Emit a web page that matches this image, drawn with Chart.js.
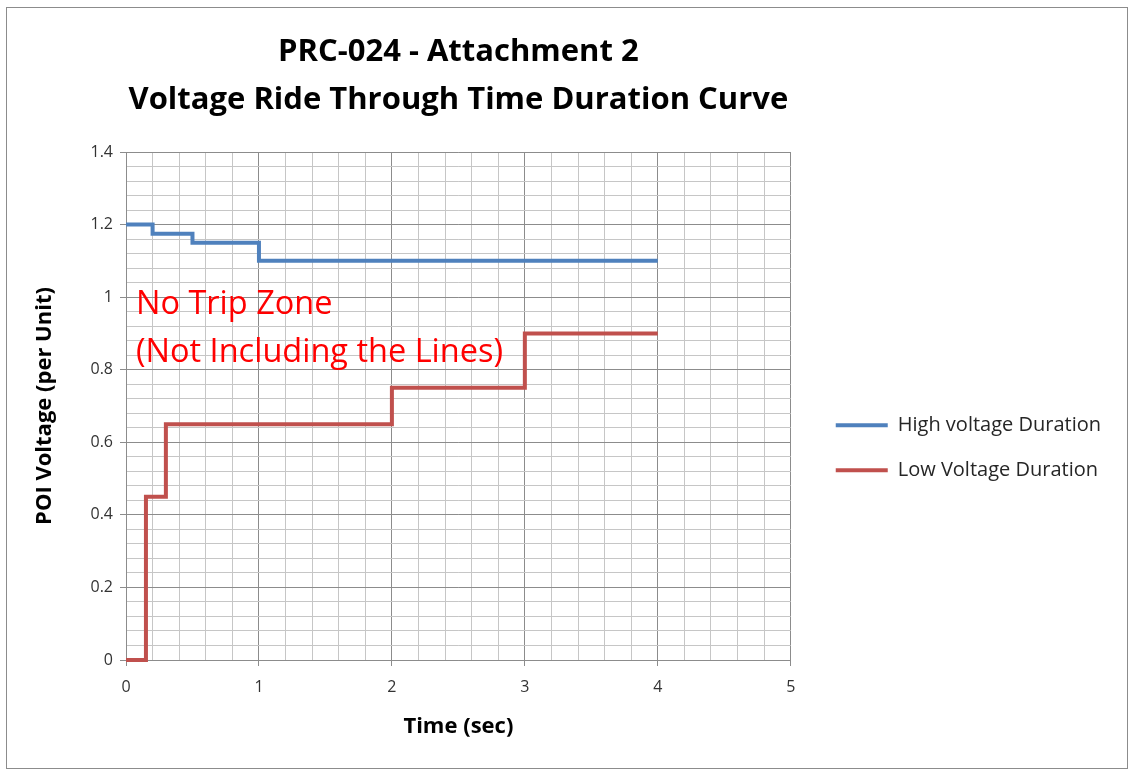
<!DOCTYPE html>
<html>
<head>
<meta charset="utf-8">
<script src="https://cdn.jsdelivr.net/npm/chart.js@4"></script>
<style>
html, body { margin: 0; padding: 0; background: #fff; }
#box { position: absolute; left: 6px; top: 7px; width: 1122px; height: 762px; border: 1px solid #8c8c8c; box-sizing: border-box; overflow: hidden; }
canvas { display: block; }
</style>
</head>
<body>
<div id="box"><canvas id="myChart" width="1120" height="760"></canvas></div>
<script>
// step points of the two ride-through curves
const highTime = [0, 0.2, 0.5, 1, 4];
const highVolt = [1.2, 1.175, 1.15, 1.1, 1.1];
const lowTime = [0, 0.15, 0.3, 2, 3, 4];
const lowVolt = [0, 0.45, 0.65, 0.75, 0.9, 0.9];

const seriesNames = ['High voltage Duration', 'Low Voltage Duration'];
const titleLines = ['PRC-024 - Attachment 2', 'Voltage Ride Through Time Duration Curve'];
const zoneLines = ['No Trip Zone', '(Not Including the Lines)'];

const FONT = '"Open Sans", Lato, sans-serif';
const majorCol = '#8c8c8c';
const minorCol = '#c6c6c6';

const isMajor = (v, step) => Math.abs(v / step - Math.round(v / step)) < 1e-6;

const toPoints = (xs, ys) => xs.map((x, i) => ({ x: x, y: ys[i] }));

// writes the red zone label inside the plot
const zoneLabel = {
    id: 'zoneLabel',
    afterDatasetsDraw(chart) {
        const ctx = chart.ctx;
        const xs = chart.scales.x, ys = chart.scales.y;
        ctx.save();
        ctx.fillStyle = '#ff0000';
        ctx.font = '32.5px ' + FONT;
        ctx.textBaseline = 'middle';
        ctx.fillText(zoneLines[0], xs.getPixelForValue(0.075), ys.getPixelForValue(0.978));
        ctx.fillText(zoneLines[1], xs.getPixelForValue(0.075), ys.getPixelForValue(0.846));
        ctx.restore();
    }
};

Chart.defaults.font.family = FONT;
Chart.defaults.color = '#333';

new Chart(document.getElementById('myChart'), {
    type: 'line',
    data: {
        datasets: [{
            label: seriesNames[0],
            data: toPoints(highTime, highVolt),
            borderColor: '#4f81bd',
            backgroundColor: '#4f81bd',
            borderWidth: 4,
            stepped: 'before',
            pointRadius: 0,
            clip: false
        }, {
            label: seriesNames[1],
            data: toPoints(lowTime, lowVolt),
            borderColor: '#c0504d',
            backgroundColor: '#c0504d',
            borderWidth: 4,
            stepped: 'before',
            pointRadius: 0,
            clip: false
        }]
    },
    options: {
        responsive: false,
        animation: false,
        layout: { padding: { right: 16 } },
        plugins: {
            title: {
                display: true,
                text: titleLines,
                fullSize: false,
                color: '#000',
                font: { size: 31, weight: 'bold', lineHeight: '48px' },
                padding: { top: 20, bottom: 28 }
            },
            legend: {
                position: 'right',
                maxWidth: 400,
                title: { display: true, text: ' ', padding: { top: 105, bottom: 0 } },
                labels: {
                    boxWidth: 52,
                    boxHeight: 4,
                    padding: 25,
                    color: '#262626',
                    font: { size: 20 },
                    generateLabels: chart => Chart.defaults.plugins.legend.labels.generateLabels(chart)
                        .map(item => Object.assign(item, { lineWidth: 0 }))
                }
            },
            tooltip: { enabled: false }
        },
        scales: {
            x: {
                type: 'linear',
                min: 0,
                max: 5,
                afterFit(scale) { scale.height = 108; },
                ticks: {
                    stepSize: 0.2,
                    autoSkip: false,
                    maxRotation: 0,
                    padding: 12,
                    font: { size: 16 },
                    callback: v => isMajor(v, 1) ? String(Math.round(v)) : ''
                },
                grid: {
                    color: c => isMajor(c.tick.value, 1) ? majorCol : minorCol,
                    tickColor: c => isMajor(c.tick.value, 1) ? majorCol : 'rgba(0,0,0,0)',
                    tickLength: 6
                },
                border: { color: majorCol },
                title: {
                    display: true,
                    text: 'Time (sec)',
                    color: '#000',
                    font: { size: 22, weight: 'bold' },
                    padding: { top: 0, bottom: 28 }
                }
            },
            y: {
                min: 0,
                max: 1.4,
                afterFit(scale) { scale.width = 119; },
                ticks: {
                    stepSize: 0.04,
                    autoSkip: false,
                    padding: 7,
                    font: { size: 16 },
                    callback: v => isMajor(v, 0.2) ? String(+v.toFixed(1)) : ''
                },
                grid: {
                    color: c => isMajor(c.tick.value, 0.2) ? majorCol : minorCol,
                    tickColor: c => isMajor(c.tick.value, 0.2) ? majorCol : 'rgba(0,0,0,0)',
                    tickLength: 6
                },
                border: { color: majorCol },
                title: {
                    display: true,
                    text: 'POI Voltage (per Unit)',
                    color: '#000',
                    font: { size: 22, weight: 'bold' },
                    padding: { top: 25, bottom: 0 }
                }
            },
            gap: {
                position: 'right',
                display: true,
                afterFit(scale) { scale.width = 20; },
                ticks: { display: false },
                grid: { display: false, drawTicks: false },
                border: { display: false }
            }
        }
    },
    plugins: [zoneLabel]
});
</script>
</body>
</html>
